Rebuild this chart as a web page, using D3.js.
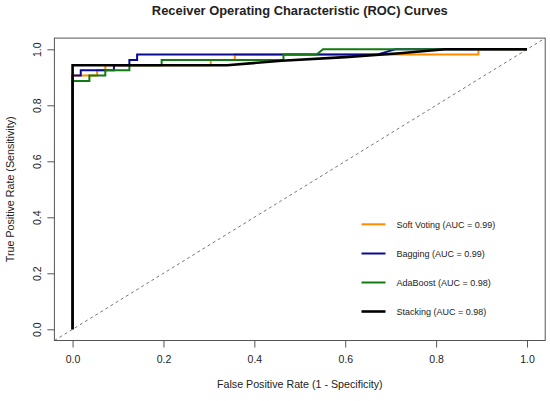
<!DOCTYPE html>
<html>
<head>
<meta charset="utf-8">
<script src="https://cdn.jsdelivr.net/npm/d3@7"></script>
<style>
  body { margin: 0; background: #fff; }
  text { font-family: "Liberation Sans", Arial, sans-serif; fill: #222; }
</style>
</head>
<body>
<script>
var w = 550;
var h = 401;

// Data: ROC points [FPR, TPR]
var softVoting = [[0, 0], [0, 0.906], [0.054, 0.906], [0.054, 0.925], [0.072, 0.925], [0.072, 0.943],
                  [0.304, 0.943], [0.304, 0.962], [0.357, 0.962], [0.357, 0.981], [0.893, 0.981],
                  [0.893, 1], [1, 1]];
var bagging = [[0, 0], [0, 0.906], [0.018, 0.906], [0.018, 0.925], [0.091, 0.925], [0.091, 0.943],
               [0.125, 0.943], [0.125, 0.962], [0.142, 0.962], [0.142, 0.981], [0.67, 0.981],
               [0.71, 1], [1, 1]];
var adaBoost = [[0, 0], [0, 0.887], [0.037, 0.887], [0.037, 0.906], [0.072, 0.906], [0.072, 0.925],
                [0.125, 0.925], [0.125, 0.943], [0.196, 0.943], [0.196, 0.962], [0.464, 0.962],
                [0.464, 0.981], [0.537, 0.981], [0.551, 1], [1, 1]];
var stacking = [[0, 0], [0, 0.943], [0.34, 0.943], [0.46, 0.959], [0.60, 0.972], [0.72, 0.986],
                [0.82, 1], [1, 1]];

var modelNames = ["Soft Voting (AUC = 0.99)", "Bagging (AUC = 0.99)", "AdaBoost (AUC = 0.98)", "Stacking (AUC = 0.98)"];
var modelColors = ["#ff8c00", "#0b0b8f", "#137a13", "#000000"];
var tickValues = [0, 0.2, 0.4, 0.6, 0.8, 1.0];

var series = [softVoting, bagging, adaBoost, stacking];

var svg = d3.select("body")
            .append("svg")
            .attr("width", w)
            .attr("height", h);

// plot region (R style: 4% padding on each side)
var pLeft = 54.4, pRight = 545.2, pTop = 38.1, pBottom = 340.5;

var xScale = d3.scaleLinear()
               .domain([-0.04, 1.04])
               .range([pLeft, pRight]);
var yScale = d3.scaleLinear()
               .domain([-0.04, 1.04])
               .range([pBottom, pTop]);

svg.append("clipPath")
   .attr("id", "plotclip")
   .append("rect")
   .attr("x", pLeft).attr("y", pTop)
   .attr("width", pRight - pLeft).attr("height", pBottom - pTop);

// title
svg.append("text")
   .attr("x", (pLeft + pRight) / 2)
   .attr("y", 15)
   .attr("text-anchor", "middle")
   .attr("font-size", "12.9px")
   .attr("font-weight", "bold")
   .text("Receiver Operating Characteristic (ROC) Curves");

// axes
var xAxis = d3.axisBottom(xScale)
              .tickValues(tickValues)
              .tickFormat(d3.format(".1f"))
              .tickSize(7)
              .tickPadding(8);
var yAxis = d3.axisLeft(yScale)
                .tickValues(tickValues)
                .tickFormat(d3.format(".1f"))
                .tickSize(7);

var gx = svg.append("g")
   .attr("transform", "translate(0," + pBottom + ")")
   .call(xAxis);
gx.select(".domain").remove();
gx.selectAll(".tick line").attr("stroke", "#555");
gx.selectAll(".tick text")
  .attr("font-size", "10.5px")
  .attr("fill", "#222")
  .attr("font-family", "Liberation Sans, Arial, sans-serif");

var gy = svg.append("g")
   .attr("transform", "translate(" + pLeft + ",0)")
   .call(yAxis);
gy.select(".domain").remove();
gy.selectAll(".tick line").attr("stroke", "#555");
gy.selectAll(".tick text")
  .attr("font-size", "10.5px")
  .attr("fill", "#222")
  .attr("font-family", "Liberation Sans, Arial, sans-serif")
  .attr("text-anchor", "middle")
  .attr("dy", null)
  .attr("x", null)
  .attr("transform", "translate(-13,0) rotate(-90)");

// axis titles
svg.append("text")
   .attr("x", (pLeft + pRight) / 2)
   .attr("y", 388)
   .attr("text-anchor", "middle")
   .attr("font-size", "10.7px")
   .text("False Positive Rate (1 - Specificity)");

svg.append("text")
   .attr("transform", "translate(14," + ((pTop + pBottom) / 2) + ") rotate(-90)")
   .attr("text-anchor", "middle")
   .attr("font-size", "10.7px")
   .text("True Positive Rate (Sensitivity)");

// diagonal reference line
svg.append("line")
   .attr("clip-path", "url(#plotclip)")
   .attr("x1", xScale(-0.04)).attr("y1", yScale(-0.04))
   .attr("x2", xScale(1.04)).attr("y2", yScale(1.04))
   .attr("stroke", "#666")
   .attr("stroke-width", 0.9)
   .attr("stroke-dasharray", "3,3");

// curves
var line = d3.line()
             .x(function(d) { return xScale(d[0]); })
             .y(function(d) { return yScale(d[1]); });

svg.selectAll("path.roc")
   .data(series)
   .enter()
   .append("path")
   .attr("class", "roc")
   .attr("d", line)
   .attr("fill", "none")
   .attr("stroke", function(d, i) { return modelColors[i]; })
   .attr("stroke-width", function(d, i) { return i == 3 ? 2.6 : 2; })
   .attr("stroke-linejoin", "miter");

// box
svg.append("rect")
   .attr("x", pLeft).attr("y", pTop)
   .attr("width", pRight - pLeft).attr("height", pBottom - pTop)
   .attr("fill", "none")
   .attr("stroke", "#555")
   .attr("stroke-width", 1);

// legend
var legendY = [224.3, 253.5, 282.5, 311.5];
var legend = svg.selectAll("g.legend")
   .data(modelNames)
   .enter()
   .append("g")
   .attr("class", "legend")
   .attr("transform", function(d, i) { return "translate(0," + legendY[i] + ")"; });

legend.append("line")
   .attr("x1", 361.5).attr("x2", 385.5)
   .attr("stroke", function(d, i) { return modelColors[i]; })
   .attr("stroke-width", function(d, i) { return i == 3 ? 2.6 : 2; });

legend.append("text")
   .attr("x", 396.5)
   .attr("y", 3.3)
   .attr("font-size", "9px")
   .text(function(d) { return d; });
</script>
</body>
</html>
